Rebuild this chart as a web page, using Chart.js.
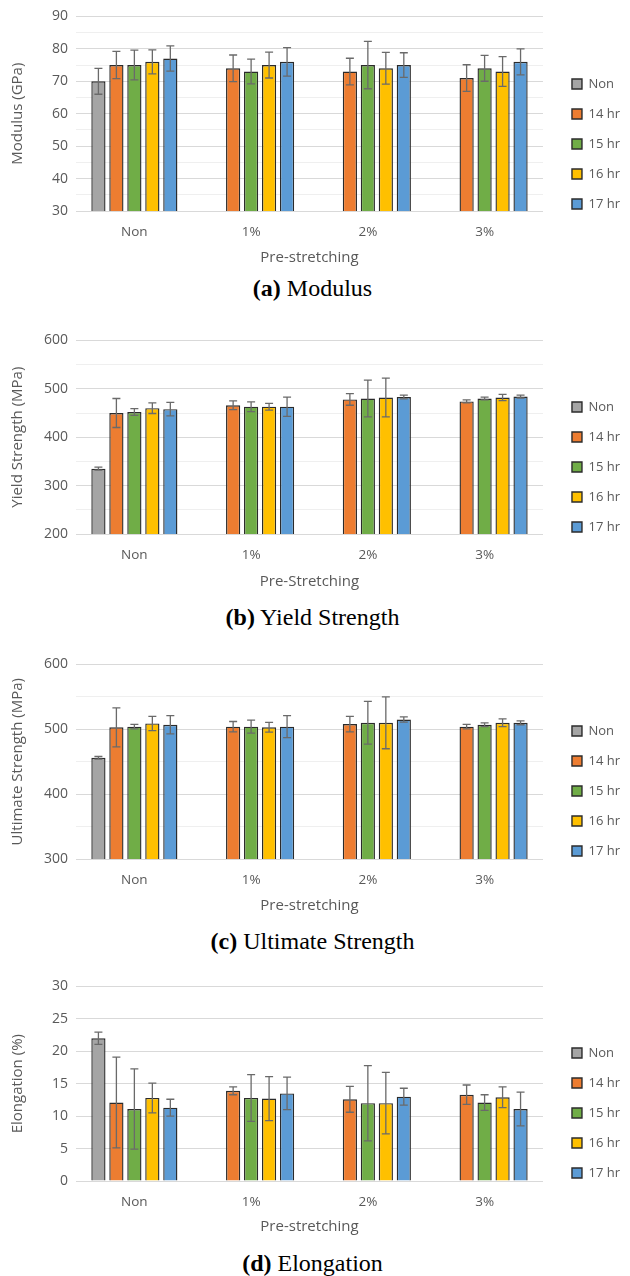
<!DOCTYPE html>
<html><head><meta charset="utf-8">
<script src="https://cdn.jsdelivr.net/npm/chart.js@4.4.1/dist/chart.umd.min.js"></script>
<style>
html,body{margin:0;padding:0;background:#fff;}
body{width:630px;height:1276px;position:relative;overflow:hidden;}
canvas{position:absolute;left:0;}
.cap{position:absolute;left:0;width:625px;text-align:center;font-family:'Liberation Serif','Times New Roman',serif;font-size:24px;line-height:28px;color:#000;white-space:nowrap;}
</style></head><body>
<canvas id="c1"></canvas>
<canvas id="c2"></canvas>
<canvas id="c3"></canvas>
<canvas id="c4"></canvas>
<div class="cap" style="top:274px"><b>(a)</b> Modulus</div>
<div class="cap" style="top:603px"><b>(b)</b> Yield Strength</div>
<div class="cap" style="top:927px"><b>(c)</b> Ultimate Strength</div>
<div class="cap" style="top:1249px"><b>(d)</b> Elongation</div>
<script>
// ---- data ----
const categories = ['Non', '1%', '2%', '3%'];
const seriesNames = ['Non', '14 hr', '15 hr', '16 hr', '17 hr'];
const seriesColors = ['#A5A5A5', '#ED7D31', '#70AD47', '#FFC000', '#5B9BD5'];

// (a) Modulus (GPa)
const modNon = [70, null, null, null];   const modNonErr = [4, null, null, null];
const mod14 = [75, 74, 73, 71];          const mod14Err = [4.2, 4.1, 4.1, 4.1];
const mod15 = [75, 73, 75, 74];          const mod15Err = [4.6, 3.8, 7.3, 4.0];
const mod16 = [76, 75, 74, 73];          const mod16Err = [3.7, 4.0, 4.9, 4.6];
const mod17 = [77, 76, 75, 76];          const mod17Err = [3.9, 4.4, 3.8, 4.0];

// (b) Yield Strength (MPa)
const ysNon = [335, null, null, null];   const ysNonErr = [3, null, null, null];
const ys14 = [450, 466, 478, 474];       const ys14Err = [30, 9, 12, 3];
const ys15 = [452, 463, 480, 480];       const ys15Err = [7, 10, 38, 3];
const ys16 = [460, 463, 482, 482];       const ys16Err = [11, 7, 40, 6.5];
const ys17 = [458, 463, 483, 484];       const ys17Err = [14, 20, 4, 3];

// (c) Ultimate Strength (MPa)
const usNon = [456, null, null, null];   const usNonErr = [2, null, null, null];
const us14 = [503, 504, 508, 504];       const us14Err = [30, 8, 12, 3.5];
const us15 = [504, 504, 510, 507];       const us15Err = [3.5, 10, 33, 3];
const us16 = [509, 503, 510, 510];       const us16Err = [11, 7.5, 40, 6];
const us17 = [507, 504, 515, 510];       const us17Err = [14, 17, 4, 3];

// (d) Elongation (%)
const elNon = [22, null, null, null];    const elNonErr = [0.95, null, null, null];
const el14 = [12.1, 13.9, 12.6, 13.3];   const el14Err = [7, 0.6, 2, 1.5];
const el15 = [11.1, 12.8, 12.0, 12.1];   const el15Err = [6.2, 3.6, 5.8, 1.2];
const el16 = [12.8, 12.7, 12.0, 12.9];   const el16Err = [2.3, 3.4, 4.75, 1.6];
const el17 = [11.3, 13.5, 13.0, 11.1];   const el17Err = [1.3, 2.5, 1.3, 2.6];

// ---- rendering ----
Chart.defaults.font.family = "'Open Sans', sans-serif";
Chart.defaults.color = '#595959';

const errorBarPlugin = {
  id: 'errorBars',
  afterDatasetsDraw(chart) {
    const ctx = chart.ctx, y = chart.scales.y;
    chart.data.datasets.forEach((ds, i) => {
      if (!ds.errors) return;
      const meta = chart.getDatasetMeta(i);
      meta.data.forEach((bar, j) => {
        const v = ds.data[j], e = ds.errors[j];
        if (v == null || e == null) return;
        const t = y.getPixelForValue(v + e), b = y.getPixelForValue(v - e);
        ctx.save();
        ctx.strokeStyle = '#6a6a6a';
        ctx.lineWidth = 1.3;
        ctx.beginPath();
        ctx.moveTo(bar.x, t); ctx.lineTo(bar.x, b);
        ctx.moveTo(bar.x - 4, t); ctx.lineTo(bar.x + 4, t);
        ctx.moveTo(bar.x - 4, b); ctx.lineTo(bar.x + 4, b);
        ctx.stroke();
        ctx.restore();
      });
    });
  }
};

function makeChart(id, cfg) {
  const canvasTop = cfg.plotTop - 16;
  const H = 2 * (cfg.legendMid - canvasTop) - 16;
  const xh = H - (cfg.plotBottom - canvasTop);
  const padB = (canvasTop + H) - cfg.xTitleY - 9;
  const el = document.getElementById(id);
  el.width = 630; el.height = H;
  el.style.top = canvasTop + 'px';
  const datasets = cfg.series.map((d, i) => ({
    label: seriesNames[i],
    data: d,
    errors: cfg.errors[i],
    backgroundColor: seriesColors[i],
    borderColor: '#2b2b2b',
    borderWidth: 1.4,
    categoryPercentage: 0.77,
    barPercentage: 0.79
  }));
  new Chart(el, {
    type: 'bar',
    data: { labels: categories, datasets },
    plugins: [errorBarPlugin],
    options: {
      responsive: false,
      animation: false,
      devicePixelRatio: 1,
      layout: { padding: { top: 16, left: 0, right: 0, bottom: 0 } },
      plugins: {
        tooltip: { enabled: false },
        legend: {
          position: 'right',
          labels: { boxWidth: 10, boxHeight: 10, padding: 17, font: { size: 13 }, color: '#595959' }
        }
      },
      scales: {
        x: {
          type: 'category',
          grid: { display: false, drawTicks: false },
          border: { display: true, color: '#D9D9D9' },
          ticks: { padding: 13, font: { size: 13.5 }, maxRotation: 0 },
          title: { display: true, text: cfg.xTitle, font: { size: 15 }, padding: { top: 0, bottom: padB } },
          afterFit: s => { s.height = xh; }
        },
        y: {
          min: cfg.min, max: cfg.max,
          grid: {
            drawTicks: false,
            color: c => (c.tick && Math.round(c.tick.value) % cfg.major === 0) ? '#D9D9D9' : '#EFEFEF',
            lineWidth: 1
          },
          border: { display: false },
          ticks: {
            stepSize: cfg.step, autoSkip: false, padding: 8, font: { size: 14 },
            callback: v => (Math.round(v) % cfg.major === 0 ? v : '')
          },
          title: { display: true, text: cfg.yTitle, font: { size: 15 }, padding: { top: 9, bottom: 0 } },
          afterFit: s => { s.width = 76; }
        },
        gap: {
          type: 'linear', position: 'right', display: true,
          grid: { display: false }, border: { display: false }, ticks: { display: false },
          afterFit: s => { s.width = 12; }
        }
      }
    }
  });
}

makeChart('c1', {
  plotTop: 16, plotBottom: 211, legendMid: 144, xTitleY: 258,
  min: 30, max: 90, step: 5, major: 10,
  yTitle: 'Modulus (GPa)', xTitle: 'Pre-stretching',
  series: [modNon, mod14, mod15, mod16, mod17],
  errors: [modNonErr, mod14Err, mod15Err, mod16Err, mod17Err]
});
makeChart('c2', {
  plotTop: 340, plotBottom: 534, legendMid: 467, xTitleY: 582,
  min: 200, max: 600, step: 50, major: 100,
  yTitle: 'Yield Strength (MPa)', xTitle: 'Pre-Stretching',
  series: [ysNon, ys14, ys15, ys16, ys17],
  errors: [ysNonErr, ys14Err, ys15Err, ys16Err, ys17Err]
});
makeChart('c3', {
  plotTop: 664, plotBottom: 859, legendMid: 791, xTitleY: 906,
  min: 300, max: 600, step: 50, major: 100,
  yTitle: 'Ultimate Strength (MPa)', xTitle: 'Pre-stretching',
  series: [usNon, us14, us15, us16, us17],
  errors: [usNonErr, us14Err, us15Err, us16Err, us17Err]
});
makeChart('c4', {
  plotTop: 986, plotBottom: 1181, legendMid: 1113, xTitleY: 1227,
  min: 0, max: 30, step: 5, major: 5,
  yTitle: 'Elongation (%)', xTitle: 'Pre-stretching',
  series: [elNon, el14, el15, el16, el17],
  errors: [elNonErr, el14Err, el15Err, el16Err, el17Err]
});
</script>
</body></html>
